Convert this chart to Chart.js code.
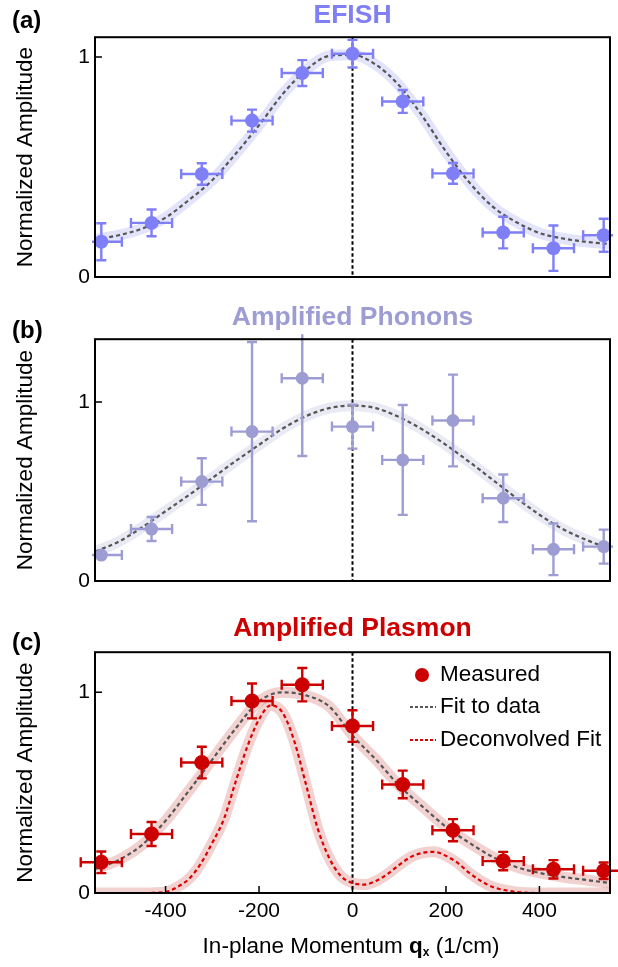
<!DOCTYPE html>
<html>
<head>
<meta charset="utf-8">
<title>EFISH / Phonons / Plasmon</title>
<script src="https://cdn.jsdelivr.net/npm/chart.js@4.4.1/dist/chart.umd.min.js"></script>
<style>
  html, body { margin: 0; padding: 0; background: #fff; }
  #wrap { position: relative; width: 618px; height: 967px; overflow: hidden; }
  #wrap canvas { position: absolute; left: 0; }
</style>
</head>
<body>
<div id="wrap">
  <canvas id="chartA" width="618" height="300" style="top:0px"></canvas>
  <canvas id="chartB" width="618" height="300" style="top:300px"></canvas>
  <canvas id="chartC" width="618" height="367" style="top:600px"></canvas>
</div>
<script>
// ── Data ─────────────────────────────────────────────────
const qPoints = [-537.5, -430, -322.5, -215, -107.5, 0, 107.5, 215, 322.5, 430, 537.5];
const qErr    = [44, 44, 44, 44, 44, 44, 44, 44, 44, 44, 44];

const efishAmp = [0.16, 0.246, 0.468, 0.711, 0.927, 1.015, 0.798, 0.471, 0.202, 0.131, 0.19];
const efishErr = [0.084, 0.061, 0.049, 0.05, 0.059, 0.063, 0.052, 0.047, 0.072, 0.103, 0.075];

const phononAmp = [0.145, 0.29, 0.555, 0.834, 1.132, 0.862, 0.676, 0.896, 0.462, 0.177, 0.192];
const phononErr = [0.02, 0.067, 0.13, 0.5, 0.434, 0.123, 0.307, 0.256, 0.133, 0.144, 0.095];

const plasmonAmp = [0.153, 0.294, 0.65, 0.957, 1.038, 0.832, 0.541, 0.313, 0.159, 0.118, 0.111];
const plasmonErr = [0.054, 0.06, 0.079, 0.087, 0.083, 0.079, 0.069, 0.055, 0.046, 0.046, 0.041];

// fitted curves
const qFit = [-550, -500, -450, -400, -350, -300, -250, -200, -150, -100, -50, 0,
              50, 100, 150, 200, 250, 300, 350, 400, 450, 500, 550];
const efishFit   = [0.17, 0.19, 0.22, 0.27, 0.35, 0.44, 0.56, 0.69, 0.83, 0.94, 1.005, 1.01,
                    0.965, 0.87, 0.73, 0.57, 0.43, 0.32, 0.25, 0.2, 0.175, 0.16, 0.15];
const phononFit  = [0.165, 0.22, 0.3, 0.39, 0.48, 0.575, 0.67, 0.76, 0.85, 0.92, 0.965, 0.98,
                    0.965, 0.915, 0.845, 0.76, 0.665, 0.565, 0.465, 0.37, 0.29, 0.23, 0.18];
const plasmonFit = [0.12, 0.165, 0.24, 0.36, 0.51, 0.665, 0.82, 0.955, 1.0, 0.985, 0.93, 0.785,
                    0.665, 0.535, 0.43, 0.33, 0.25, 0.18, 0.13, 0.1, 0.08, 0.065, 0.05];

const qDeconv = [-550, -500, -450, -400, -375, -350, -325, -300, -275, -250, -225, -200, -175,
                 -150, -125, -100, -75, -50, -25, 0, 25, 50, 75, 100, 125, 150, 175, 200,
                 225, 250, 275, 300, 325, 350, 400, 450, 500, 550];
const plasmonDeconv = [0, 0, 0, 0.005, 0.03, 0.07, 0.145, 0.25, 0.37, 0.555, 0.73, 0.865, 0.935,
                       0.9, 0.76, 0.545, 0.325, 0.175, 0.085, 0.05, 0.042, 0.06, 0.095, 0.14, 0.18,
                       0.2, 0.205, 0.185, 0.15, 0.1, 0.06, 0.03, 0.015, 0.005, 0, 0, 0, 0];

const xTicks = [-400, -200, 0, 200, 400];
const yTicks = [0, 1];

// ── Shared look ──────────────────────────────────────────
const FONT  = "'Liberation Sans', Arial, Helvetica, sans-serif";
const GREY  = "#555555";

function pairs(xs, ys) {
  return xs.map(function (x, i) { return { x: x, y: ys[i] }; });
}

// frame, inward ticks, zero line, error bars, panel letter, legend, x title
function makeDecor(cfg) {
  return {
    id: "decor" + cfg.label,
    beforeDatasetsDraw: function (chart) {
      const ctx = chart.ctx, a = chart.chartArea;
      const x0 = chart.scales.x.getPixelForValue(0);
      ctx.save();
      ctx.strokeStyle = "#000";
      ctx.lineWidth = 2;
      ctx.setLineDash([3.5, 2.5]);
      ctx.beginPath();
      ctx.moveTo(x0, a.top);
      ctx.lineTo(x0, a.bottom);
      ctx.stroke();
      ctx.restore();
    },
    afterDatasetsDraw: function (chart) {
      const ctx = chart.ctx, a = chart.chartArea;
      const xs = chart.scales.x, ys = chart.scales.y;
      const e = cfg.errors;
      const pts = chart.data.datasets[e.dataset].data;

      // error bars
      ctx.save();
      if (e.clip) {
        ctx.beginPath();
        ctx.rect(a.left - 3, a.top - 5, a.right - a.left + 6, a.bottom - a.top + 8);
        ctx.clip();
      }
      ctx.strokeStyle = e.color;
      ctx.lineWidth = 2.4;
      pts.forEach(function (p, i) {
        const px = xs.getPixelForValue(p.x), py = ys.getPixelForValue(p.y);
        const xl = xs.getPixelForValue(p.x - e.xErr[i]), xr = xs.getPixelForValue(p.x + e.xErr[i]);
        const yt = ys.getPixelForValue(p.y + e.yErr[i]), yb = ys.getPixelForValue(p.y - e.yErr[i]);
        const c = e.cap;
        ctx.beginPath();
        ctx.moveTo(xl, py); ctx.lineTo(xr, py);
        ctx.moveTo(xl, py - c); ctx.lineTo(xl, py + c);
        ctx.moveTo(xr, py - c); ctx.lineTo(xr, py + c);
        if (e.yErr[i] > 0.03) {
          ctx.moveTo(px, yt); ctx.lineTo(px, yb);
          ctx.moveTo(px - c, yt); ctx.lineTo(px + c, yt);
          ctx.moveTo(px - c, yb); ctx.lineTo(px + c, yb);
        }
        ctx.stroke();
      });
      ctx.restore();

      // frame + inward ticks
      ctx.save();
      ctx.strokeStyle = "#000";
      ctx.lineWidth = 2;
      ctx.strokeRect(a.left, a.top, a.right - a.left, a.bottom - a.top);
      ctx.lineWidth = 1.5;
      ctx.beginPath();
      yTicks.forEach(function (v) {
        const y = ys.getPixelForValue(v);
        ctx.moveTo(a.left, y); ctx.lineTo(a.left + 7, y);
      });
      if (cfg.xTitle) {
        xTicks.forEach(function (v) {
          const x = xs.getPixelForValue(v);
          ctx.moveTo(x, a.bottom); ctx.lineTo(x, a.bottom - 7);
        });
      }
      ctx.stroke();
      ctx.restore();
    },
    afterDraw: function (chart) {
      const ctx = chart.ctx;
      ctx.save();
      ctx.fillStyle = "#000";
      ctx.textBaseline = "middle";
      ctx.textAlign = "left";
      ctx.font = "bold 24px " + FONT;
      ctx.fillText("(" + cfg.label + ")", 12, cfg.labelY);

      if (cfg.legend) {
        const L = cfg.legend;
        ctx.font = "22.5px " + FONT;
        L.items.forEach(function (it, i) {
          const y = L.y[i];
          if (it.type === "point") {
            ctx.fillStyle = it.color;
            ctx.beginPath();
            ctx.arc(L.x + 12, y, 7, 0, Math.PI * 2);
            ctx.fill();
          } else {
            ctx.strokeStyle = it.color;
            ctx.lineWidth = 2;
            ctx.setLineDash([3, 2]);
            ctx.beginPath();
            ctx.moveTo(L.x, y); ctx.lineTo(L.x + 26, y);
            ctx.stroke();
            ctx.setLineDash([]);
          }
          ctx.fillStyle = "#000";
          ctx.fillText(it.text, L.x + 30, y);
        });
      }

      if (cfg.xTitle) {
        const parts = [
          { t: "In-plane Momentum ", f: "22.5px " + FONT, dy: 0 },
          { t: "q", f: "bold 22.5px " + FONT, dy: 0 },
          { t: "x", f: "bold 12px " + FONT, dy: 6 },
          { t: " (1/cm)", f: "22.5px " + FONT, dy: 0 }
        ];
        let total = 0;
        parts.forEach(function (p) { ctx.font = p.f; p.w = ctx.measureText(p.t).width; total += p.w; });
        let x = cfg.xTitle.cx - total / 2;
        parts.forEach(function (p) {
          ctx.font = p.f;
          ctx.fillText(p.t, x, cfg.xTitle.cy + p.dy);
          x += p.w;
        });
      }
      ctx.restore();
    }
  };
}

function yScale(max) {
  return {
    type: "linear",
    min: 0,
    max: max,
    afterBuildTicks: function (s) { s.ticks = yTicks.map(function (v) { return { value: v }; }); },
    afterFit: function (s) { s.width = 95; },
    grid:   { display: false, drawTicks: false },
    border: { display: false },
    ticks:  { color: "#000", font: { family: FONT, size: 21 }, padding: 5 },
    title:  {
      display: true, text: "Normalized Amplitude", color: "#000",
      font: { family: FONT, size: 22.5 }, padding: { top: 12, bottom: 0 }
    }
  };
}

function fitSets(xs, ys, band, line, dash, ord) {
  return [
    {
      data: pairs(xs, ys), showLine: true, pointRadius: 0, borderColor: line,
      borderWidth: 2.2, borderDash: dash, cubicInterpolationMode: "monotone", order: ord
    },
    {
      data: pairs(xs, ys), showLine: true, pointRadius: 0, borderColor: band,
      borderWidth: 11, cubicInterpolationMode: "monotone", order: ord + 10
    }
  ];
}

function panel(id, o) {
  const datasets = [{
    data: pairs(qPoints, o.amp), pointRadius: o.radius, pointBackgroundColor: o.color,
    pointBorderWidth: 0, borderColor: o.color, order: 0, clip: false
  }].concat(fitSets(qFit, o.fit, o.band, GREY, [4, 3], 1));
  if (o.deconv) datasets.push.apply(datasets, fitSets(qDeconv, o.deconv, o.band, "#dd0000", [4, 3], 2));

  new Chart(document.getElementById(id), {
    type: "scatter",
    data: { datasets: datasets },
    options: {
      responsive: false,
      animation: false,
      events: [],
      layout: { padding: o.padding },
      plugins: {
        legend:  { display: false },
        tooltip: { enabled: false },
        title: {
          display: true, text: o.title, color: o.color, fullSize: false,
          font: { family: FONT, size: 26.5, weight: "bold" }, padding: o.titlePad
        }
      },
      scales: {
        x: o.xAxis ? {
          type: "linear", min: -551, max: 551,
          afterBuildTicks: function (s) { s.ticks = xTicks.map(function (v) { return { value: v }; }); },
          afterFit: function (s) { s.height = 74; },
          grid:   { display: false, drawTicks: false },
          border: { display: false },
          ticks:  { color: "#000", font: { family: FONT, size: 21 }, padding: 6 }
        } : { type: "linear", min: -551, max: 551, display: false },
        y: yScale(o.yMax)
      }
    },
    plugins: [makeDecor(o.decor)]
  });
}

// ── (a) EFISH ────────────────────────────────────────────
panel("chartA", {
  title: "EFISH", color: "#7f7ff7", band: "rgba(128,128,235,0.22)", radius: 7,
  amp: efishAmp, fit: efishFit, yMax: 1.09,
  padding: { left: 0, right: 8, top: 0, bottom: 23 }, titlePad: { top: 0, bottom: 5.4 },
  decor: { label: "a", labelY: 21,
    errors: { dataset: 0, xErr: qErr, yErr: efishErr, color: "#7f7ff7", cap: 5, clip: true } }
});

// ── (b) Amplified Phonons ────────────────────────────────
panel("chartB", {
  title: "Amplified Phonons", color: "#9d9dd3", band: "rgba(150,150,205,0.2)", radius: 6.5,
  amp: phononAmp, fit: phononFit, yMax: 1.35,
  padding: { left: 0, right: 8, top: 0, bottom: 19 }, titlePad: { top: 2, bottom: 5.4 },
  decor: { label: "b", labelY: 31,
    errors: { dataset: 0, xErr: qErr, yErr: phononErr, color: "#9d9dd3", cap: 5, clip: true } }
});

// ── (c) Amplified Plasmon ────────────────────────────────
panel("chartC", {
  title: "Amplified Plasmon", color: "#cc0000", band: "rgba(205,70,70,0.25)", radius: 7.5,
  amp: plasmonAmp, fit: plasmonFit, deconv: plasmonDeconv, yMax: 1.2, xAxis: true,
  padding: { left: 0, right: 8, top: 0, bottom: 0 }, titlePad: { top: 13, bottom: 7.4 },
  decor: { label: "c", labelY: 43,
    errors: { dataset: 0, xErr: qErr, yErr: plasmonErr, color: "#cc0000", cap: 5, clip: false },
    legend: { x: 410, y: [75, 107, 140], items: [
      { type: "point", color: "#cc0000", text: "Measured" },
      { type: "line",  color: GREY,      text: "Fit to data" },
      { type: "line",  color: "#dd0000", text: "Deconvolved Fit" }
    ] },
    xTitle: { cx: 351, cy: 347 } }
});
</script>
</body>
</html>
